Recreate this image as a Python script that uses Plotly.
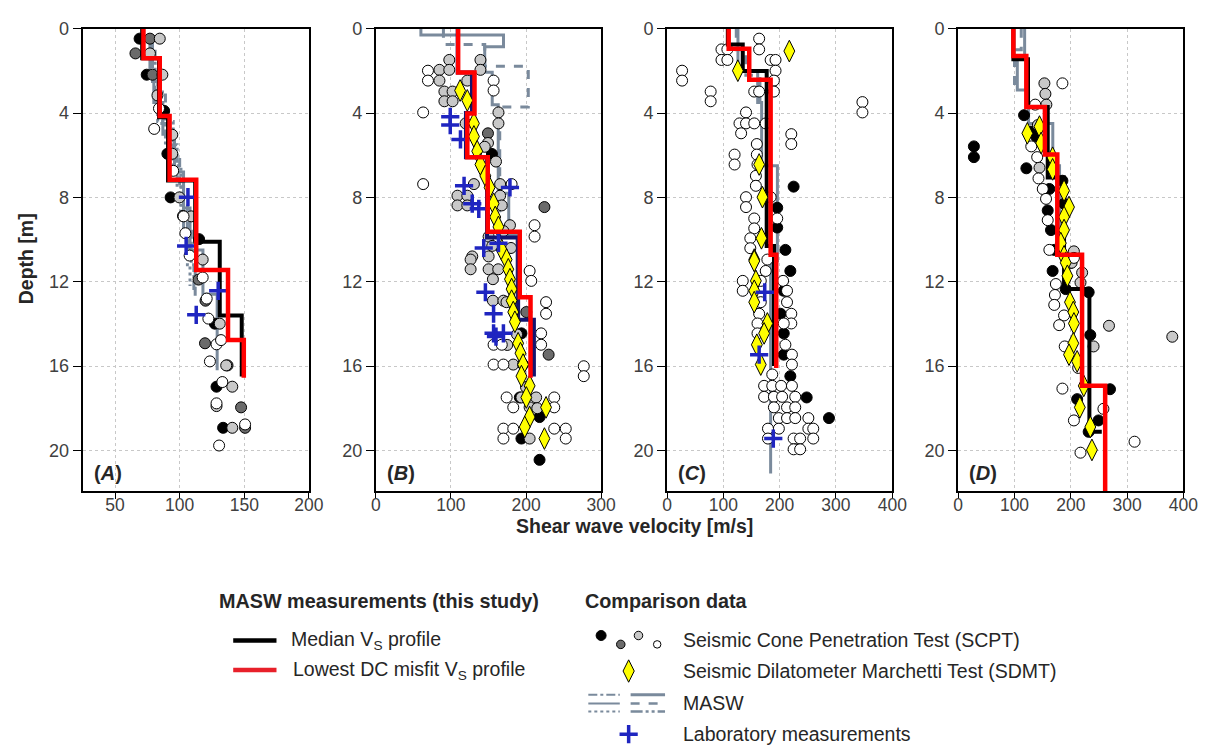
import plotly.graph_objects as go

# ======================= DATA =======================
# ---- Panel A ----
A_red_depth = [0, 1.4, 4.14, 7.16, 11.45, 14.77, 16.56]
A_red_vs = [72, 84.6, 92.2, 112.8, 137.4, 149.6]
A_med_depth = [0, 1.4, 4.2, 7.2, 10.1, 13.6, 16.5]
A_med_vs = [71, 84, 91, 112, 131, 148]
A_masw1_depth = [0.4, 2.2, 3.5, 5.0, 6.8, 8.5, 10.5, 12.6, 16.2]
A_masw1_vs = [77, 80, 87, 96, 103, 108, 118, 129]
A_masw2_depth = [0.6, 2.5, 4.5, 6.2, 8.0, 10.8, 13.0]
A_masw2_vs = [79, 84, 93, 100, 106, 112]
A_masw3_depth = [1.0, 3.0, 5.5, 7.5, 9.5, 11.2, 12.5]
A_masw3_vs = [81, 89, 98, 103, 109, 111]
A_masw4_depth = [2.0, 4.4, 6.5, 9.0, 11.2, 12.2]
A_masw4_vs = [83, 95, 101, 106, 108]
A_scpt_black = [(69, 0.47), (74.5, 2.18), (88, 3.9), (90.5, 5.93), (93, 8.0), (115, 9.98),
                (127.2, 13.99), (128.5, 16.98), (133.6, 18.93)]
A_scpt_dark = [(77, 0.47), (65.8, 1.17), (79, 2.18), (102.6, 8.88), (114.6, 11.9), (120, 12.9),
               (119.6, 14.92), (137, 15.97), (147.5, 17.96), (150.6, 18.93)]
A_scpt_light = [(84.6, 0.47), (77, 1.17), (86.6, 2.18), (82.8, 3.16), (94.3, 5.03), (94.3, 5.93),
                (99.8, 8.0), (109, 8.9), (117.8, 10.95), (131, 13.99), (136, 15.97), (140.7, 16.98),
                (128.5, 17.9), (140.7, 18.93)]
A_scpt_white = [(84, 3.78), (80.3, 4.75), (95, 6.74), (103, 8.9), (104.4, 9.7), (107.7, 10.76),
                (117.8, 11.8), (120.9, 12.8), (122.2, 13.75), (128.5, 14.97), (132, 14.77),
                (123.4, 15.78), (133, 16.76), (128.5, 17.77), (150.6, 18.77), (130.5, 19.77)]
A_sdmt = []
A_lab = [(106.4, 7.99), (105, 10.3), (129.8, 12.43), (112.8, 13.57)]

# ---- Panel B ----
B_red_depth = [0, 2.07, 4.02, 6.09, 9.63, 12.74, 16.56]
B_red_vs = [109.6, 131.4, 121.8, 149, 191.7, 206]
B_med_depth = [0, 2.07, 4.0, 6.1, 9.9, 13.8, 16.5]
B_med_vs = [109, 128, 120, 148, 189.5, 210.5]
B_masw1_depth = [0, 0.3, 0.85, 2.06, 3.6, 7.8, 9.8, 14.0]
B_masw1_vs = [60, 170, 145, 155, 163, 177, 188]
B_masw2_depth = [0, 0.75, 1.78, 3.71, 9.8]
B_masw2_vs = [90, 145, 203, 165]
B_scpt_black = [(154.6, 5.94), (193.9, 14.45), (218, 18.42), (193.9, 19.44), (218, 20.45), (191.7, 17.49)]
B_scpt_dark = [(149.3, 4.96), (224.5, 8.46), (200.4, 13.44), (230.1, 15.46)]
B_scpt_light = [(97.8, 1.48), (139.3, 1.48), (84.7, 1.95), (97.8, 1.95), (139.3, 1.95), (84.7, 2.46),
                (121.8, 2.46), (91.3, 2.98), (102.2, 2.98), (91.3, 3.44), (102.2, 3.44), (163.3, 3.97),
                (163.3, 4.49), (119.6, 4.49), (149.3, 5.42), (145, 5.6), (160, 6.3), (130.6, 7.37),
                (165.5, 7.37), (108.7, 7.92), (121.8, 7.92), (108.7, 8.38), (121.8, 8.38), (165.5, 7.92),
                (167.7, 8.38), (178.6, 9.32), (170, 9.6), (150.2, 9.86), (155, 10.3), (180, 10.4),
                (128.4, 10.8), (150.2, 10.8), (126.2, 10.95), (126.2, 11.41), (150.2, 11.41),
                (163, 11.41), (155.9, 11.88), (155.9, 12.9), (169.9, 12.9), (174, 12.97), (188, 14.5),
                (175, 15.0), (183, 15.93), (196.1, 15.93), (200, 17.0), (193.9, 17.49), (213.5, 17.49),
                (204.8, 17.96), (215, 18.0), (204.8, 19.44)]
B_scpt_white = [(69.4, 1.99), (69.4, 2.46), (156.8, 2.46), (156.8, 2.93), (63, 3.97), (63, 7.37),
                (180.8, 7.37), (211.4, 9.32), (211.4, 9.86), (204.8, 11.49), (207, 11.96), (226.7, 12.97),
                (226.7, 13.52), (220.1, 14.45), (220.1, 14.99), (156.8, 14.99), (167.7, 14.99),
                (156.8, 15.93), (169.9, 15.93), (276.9, 16.01), (276.9, 16.48), (174.2, 17.49),
                (183, 17.96), (237.6, 17.49), (237.6, 17.96), (169.9, 18.97), (183, 18.97),
                (169.9, 19.44), (237.6, 18.97), (252.9, 18.97), (252.9, 19.44)]
B_sdmt = [(112.2, 2.93), (121.8, 3.4), (130.6, 4.49), (130.6, 5.11), (135, 5.81), (139.3, 6.44),
          (145.9, 6.98), (151.5, 7.53), (156.8, 8.3), (159, 8.93), (163.3, 9.4), (167.7, 10.5),
          (174.2, 10.95), (176.4, 11.41), (178.6, 11.88), (180.8, 12.35), (180.8, 12.9), (183, 13.44),
          (185.2, 13.9), (189.5, 14.92), (192.6, 15.39), (196.1, 15.93), (193.9, 16.48), (204.8, 16.94),
          (200.4, 17.49), (226.7, 17.96), (204.8, 18.42), (198.3, 18.89), (224.5, 19.44)]
B_lab = [(99.1, 4.18), (99.1, 4.57), (112.7, 5.25), (117.5, 7.45), (128.4, 8.3), (137.1, 8.54),
         (178.6, 7.53), (143.7, 10.4), (163.3, 10.17), (145.9, 12.5), (156.8, 13.52), (156.8, 14.45),
         (169.9, 14.45), (160, 14.6)]

# ---- Panel C ----
C_red_depth = [0, 0.95, 2.42, 10.72, 16.09]
C_red_vs = [109.5, 146, 184, 194]
C_med_depth = [0, 0.75, 2.0, 10.3, 16.0]
C_med_vs = [108, 134.5, 177, 190]
C_masw1_depth = [0, 2.0, 3.5, 6.5, 11.0, 21.1]
C_masw1_vs = [126, 161, 168, 196, 184]
C_masw2_depth = [0, 1.0, 2.2, 4.0]
C_masw2_vs = [123, 140, 165]
C_scpt_black = [(224.8, 7.49), (195.7, 8.49), (195.7, 9.43), (210.2, 10.49), (219, 11.49),
                (207.3, 12.43), (201.5, 13.52), (207.3, 14.45), (207.3, 15.46), (219, 16.48),
                (248, 17.49), (287.6, 18.47), (400.6, 19.48)]
C_scpt_dark = []
C_scpt_light = []
C_scpt_white = [(163.6, 0.47), (163.6, 0.98), (96.7, 0.98), (107.2, 0.98), (96.7, 1.48), (107.2, 1.48),
                (184, 1.48), (192.7, 1.48), (192.7, 1.99), (26.8, 1.99), (26.8, 2.46), (77.5, 2.98),
                (77.5, 3.44), (189.8, 2.46), (189.8, 2.98), (154.9, 2.98), (163.6, 2.98), (347, 3.48),
                (347, 3.97), (140.3, 3.97), (128.7, 4.49), (140.3, 4.49), (154.9, 4.49), (175.3, 4.49),
                (131.6, 4.96), (220.7, 5.0), (220.7, 5.47), (159.5, 5.47), (159.5, 5.97), (120, 5.97),
                (120, 6.44), (160.7, 6.44), (157.8, 6.98), (157.8, 7.45), (140.3, 7.99), (140.3, 8.46),
                (184, 7.99), (154.9, 9.0), (195.7, 9.0), (154.9, 9.47), (147.9, 9.94), (147.9, 10.41),
                (178.2, 10.95), (175.3, 11.49), (134.5, 11.96), (134.5, 12.43), (166.5, 11.96),
                (206.1, 11.96), (213.1, 12.43), (213.1, 12.97), (166.5, 12.97), (163.6, 13.52),
                (220.7, 13.52), (220.7, 13.98), (160.7, 13.98), (160.7, 14.45), (207.3, 13.98),
                (210.2, 14.99), (221.8, 15.46), (221.8, 15.93), (186.9, 16.4), (172.4, 16.94),
                (186.9, 16.94), (202.6, 16.94), (221.8, 16.94), (172.4, 17.46), (189.8, 17.46),
                (204.4, 17.46), (227.7, 17.46), (189.8, 17.96), (213.1, 17.96), (227.7, 17.96),
                (198.6, 18.47), (213.1, 18.47), (227.7, 18.47), (251, 18.47), (198.6, 18.97),
                (179.3, 18.97), (251, 18.97), (259.7, 18.97), (259.7, 19.44), (179.3, 19.44),
                (224.8, 19.44), (236.4, 19.44), (224.8, 19.95), (236.4, 19.95)]
C_sdmt = [(217.2, 1.06), (125.8, 1.99), (163.6, 6.44), (169.5, 7.99), (167.7, 9.94), (154.9, 10.95),
          (154.9, 11.02), (157.8, 11.96), (154.9, 12.43), (154.9, 12.97), (178.2, 13.98),
          (172.4, 14.45), (159.5, 14.99), (166.5, 15.93)]
C_lab = [(173.5, 12.5), (163.6, 15.46), (188.7, 19.44)]

# ---- Panel D ----
D_red_depth = [0, 1.29, 3.71, 5.97, 10.72, 16.94, 22]
D_red_vs = [98, 121, 154, 176, 220, 261]
D_med_depth = [0, 1.45, 3.71, 7.06, 12.35, 19.12, 19.12]
D_med_vs = [98, 124, 159, 188, 233, 255]
D_masw1_depth = [0, 1.3, 2.9, 4.5, 6.5, 10.5]
D_masw1_vs = [118, 105, 125, 168, 180]
D_masw2_depth = [0, 1.0, 3.0]
D_masw2_vs = [112, 100]
D_scpt_black = [(27.9, 5.58), (27.9, 6.09), (117, 4.1), (121.1, 6.62), (128.7, 4.88), (138.6, 5.11),
                (161.9, 7.6), (159, 8.62), (164.8, 9.55), (170.6, 10.49), (185.1, 7.21), (188, 8.3),
                (167.7, 11.49), (191, 12.35), (231.7, 12.5), (234.6, 14.53), (211.3, 17.57),
                (269.6, 17.1), (249.2, 18.58), (231.7, 19.12)]
D_scpt_dark = []
D_scpt_light = [(153.1, 2.59), (154.9, 3.09), (156.6, 3.6), (141.5, 4.57), (144.4, 6.59),
                (205.5, 10.56), (199.7, 11.11), (201.4, 11.1), (220.1, 11.57), (217.2, 12.04),
                (240.4, 15.07), (267.8, 14.09), (380.2, 14.61), (400.6, 18.08)]
D_scpt_white = [(185.1, 2.59), (136.8, 3.6), (129.8, 5.58), (140.3, 6.09), (142.6, 7.1), (150.2, 7.6),
                (156, 8.07), (159, 9.08), (161.9, 10.49), (205.5, 10.87), (173.5, 12.11),
                (171.8, 12.63), (170.6, 13.1), (188, 13.6), (179.3, 14.06), (189.2, 15.07),
                (213.1, 16.09), (185.1, 17.07), (205.5, 18.58), (257.9, 18.03), (313.2, 19.59),
                (217.2, 20.11)]
D_sdmt = [(122.8, 4.96), (144.4, 4.64), (147.3, 5.42), (167.7, 6.12), (167.7, 6.67), (188, 7.68),
          (196.8, 8.46), (188, 8.93), (188, 9.55), (182.2, 10.17), (188, 10.8), (191, 11.1),
          (193.9, 11.72), (198.5, 12.97), (204.4, 13.44), (205.5, 13.98), (204.4, 14.92),
          (196.8, 15.46), (211.3, 15.78), (223, 16.94), (216, 17.96), (234.6, 18.89), (237.5, 19.98)]
D_lab = []

# axes
panel_names = ["A", "B", "C", "D"]
x_ranges = [[25, 200], [0, 300], [0, 400], [0, 400]]
x_tickvals = [[50, 100, 150, 200], [0, 100, 200, 300], [0, 100, 200, 300, 400], [0, 100, 200, 300, 400]]
depth_range = [21.95, 0]
depth_ticks = [0, 4, 8, 12, 16, 20]

# ======================= STYLE / LAYOUT =======================
W, H = 1225, 747
panel_px = [(79, 309), (377, 606), (673, 902), (969, 1198)]
top_px, bot_px = 19, 488
legend_top_px = 570
FONT = "Arial, 'Liberation Sans', sans-serif"
GRAY = "#7A8A9C"
RED = "#FF0000"
BLUE = "#1F25C0"
med_colors = ["#000000", "#14146E", "#000000", "#000000"]
scpt_colors = {"black": "#000000", "dark": "#6B6B6B", "light": "#C8C8C8", "white": "#FFFFFF"}

panels = {
    "A": dict(red=(A_red_depth, A_red_vs), med=(A_med_depth, A_med_vs),
              masw=[(A_masw1_depth, A_masw1_vs, "solid"), (A_masw2_depth, A_masw2_vs, "dash"),
                    (A_masw3_depth, A_masw3_vs, "dashdot"), (A_masw4_depth, A_masw4_vs, "dot")],
              scpt=[("black", A_scpt_black), ("dark", A_scpt_dark), ("light", A_scpt_light), ("white", A_scpt_white)],
              sdmt=A_sdmt, lab=A_lab),
    "B": dict(red=(B_red_depth, B_red_vs), med=(B_med_depth, B_med_vs),
              masw=[(B_masw1_depth, B_masw1_vs, "solid"), (B_masw2_depth, B_masw2_vs, "dash")],
              scpt=[("black", B_scpt_black), ("dark", B_scpt_dark), ("light", B_scpt_light), ("white", B_scpt_white)],
              sdmt=B_sdmt, lab=B_lab),
    "C": dict(red=(C_red_depth, C_red_vs), med=(C_med_depth, C_med_vs),
              masw=[(C_masw1_depth, C_masw1_vs, "solid"), (C_masw2_depth, C_masw2_vs, "dash")],
              scpt=[("black", C_scpt_black), ("dark", C_scpt_dark), ("light", C_scpt_light), ("white", C_scpt_white)],
              sdmt=C_sdmt, lab=C_lab),
    "D": dict(red=(D_red_depth, D_red_vs), med=(D_med_depth, D_med_vs),
              masw=[(D_masw1_depth, D_masw1_vs, "solid"), (D_masw2_depth, D_masw2_vs, "dash")],
              scpt=[("black", D_scpt_black), ("dark", D_scpt_dark), ("light", D_scpt_light), ("white", D_scpt_white)],
              sdmt=D_sdmt, lab=D_lab),
}


def steps(bounds, vs):
    xs, ys = [], []
    for i, v in enumerate(vs):
        xs += [v, v]
        ys += [bounds[i], bounds[i + 1]]
    return xs, ys


fig = go.Figure()

for i, name in enumerate(panel_names):
    p = panels[name]
    xa, ya = ("x" if i == 0 else f"x{i+1}"), ("y" if i == 0 else f"y{i+1}")
    for bounds, vs, dash in p["masw"]:
        xs, ys = steps(bounds, vs)
        fig.add_trace(go.Scatter(x=xs, y=ys, mode="lines", xaxis=xa, yaxis=ya,
                                 line=dict(color=GRAY, width=3, dash=dash), showlegend=False))
    for cname, pts in p["scpt"]:
        if pts:
            fig.add_trace(go.Scatter(x=[a for a, b in pts], y=[b for a, b in pts], mode="markers",
                                     xaxis=xa, yaxis=ya, cliponaxis=False, showlegend=False,
                                     marker=dict(size=11, color=scpt_colors[cname],
                                                 line=dict(color="black", width=1))))
    xs, ys = steps(*p["med"])
    fig.add_trace(go.Scatter(x=xs, y=ys, mode="lines", xaxis=xa, yaxis=ya, showlegend=False,
                             line=dict(color=med_colors[i], width=4)))
    if p["sdmt"]:
        fig.add_trace(go.Scatter(x=[a for a, b in p["sdmt"]], y=[b for a, b in p["sdmt"]], mode="markers",
                                 xaxis=xa, yaxis=ya, cliponaxis=False, showlegend=False,
                                 marker=dict(symbol="diamond-tall", size=15.5, color="#FFFF00",
                                             line=dict(color="black", width=1))))
    if p["lab"]:
        fig.add_trace(go.Scatter(x=[a for a, b in p["lab"]], y=[b for a, b in p["lab"]], mode="markers",
                                 xaxis=xa, yaxis=ya, cliponaxis=False, showlegend=False,
                                 marker=dict(symbol="cross-thin", size=13, color=BLUE,
                                             line=dict(color=BLUE, width=3.5))))
    xs, ys = steps(*p["red"])
    fig.add_trace(go.Scatter(x=xs, y=ys, mode="lines", xaxis=xa, yaxis=ya, showlegend=False,
                             line=dict(color=RED, width=4.5)))

layout = dict(width=W, height=H, margin=dict(l=0, r=0, t=0, b=0), paper_bgcolor="white",
              plot_bgcolor="rgba(0,0,0,0)", font=dict(family=FONT, color="#262626"), showlegend=False)
for i in range(4):
    L, R = panel_px[i]
    kx = "xaxis" if i == 0 else f"xaxis{i+1}"
    ky = "yaxis" if i == 0 else f"yaxis{i+1}"
    layout[kx] = dict(domain=[L / W, R / W], range=x_ranges[i], tickvals=x_tickvals[i],
                      anchor="y" if i == 0 else f"y{i+1}",
                      showgrid=True, gridcolor="#C8C8C8", griddash="dot", gridwidth=1,
                      showline=True, linecolor="black", linewidth=2, mirror=True, zeroline=False,
                      ticks="outside", ticklen=6, tickcolor="black", tickwidth=1.2,
                      ticklabelstandoff=-9,
                      tickfont=dict(size=17.5, color="#404040", family=FONT))
    layout[ky] = dict(domain=[1 - bot_px / H, 1 - top_px / H], range=depth_range, tickvals=depth_ticks,
                      anchor="x" if i == 0 else f"x{i+1}",
                      showgrid=True, gridcolor="#C8C8C8", griddash="dot", gridwidth=1,
                      showline=True, linecolor="black", linewidth=2, mirror=True, zeroline=False,
                      ticks="outside", ticklen=8, tickcolor="black", tickwidth=1.2,
                      tickfont=dict(size=18, color="#404040", family=FONT))

# separate axis, below the panels, for the legend glyphs (pixel coordinates)
layout["xaxis5"] = dict(domain=[0, 1], range=[0, W], visible=False, anchor="y5", fixedrange=True)
layout["yaxis5"] = dict(domain=[0, 1 - legend_top_px / H], range=[H, legend_top_px], visible=False,
                        anchor="x5", fixedrange=True)
fig.update_layout(**layout)


def leg_line(x0, x1, y, color, width, dash="solid"):
    fig.add_trace(go.Scatter(x=[x0, x1], y=[y, y], mode="lines", xaxis="x5", yaxis="y5",
                             showlegend=False, hoverinfo="skip",
                             line=dict(color=color, width=width, dash=dash)))


def leg_marker(x, y, symbol, size, color, lcolor="black", lw=1):
    fig.add_trace(go.Scatter(x=[x], y=[y], mode="markers", xaxis="x5", yaxis="y5",
                             showlegend=False, hoverinfo="skip", cliponaxis=False,
                             marker=dict(symbol=symbol, size=size, color=color,
                                         line=dict(color=lcolor, width=lw))))


leg_line(232, 276, 639, "#000000", 4.5)
leg_line(232, 276, 669, "#E8202A", 4.5)
leg_marker(606, 634, "circle", 10, "#000000")
leg_marker(626, 643, "circle", 8.5, "#6B6B6B")
leg_marker(644, 634, "circle", 8.5, "#C8C8C8")
leg_marker(663, 643, "circle", 7.5, "#FFFFFF")
leg_marker(634, 670, "diamond-tall", 16, "#FFFF00")
leg_line(593, 625, 694, GRAY, 2, "dashdot")
leg_line(593, 625, 703, GRAY, 2, "solid")
leg_line(593, 625, 711, GRAY, 2, "dot")
leg_line(636, 671, 694, GRAY, 3, "solid")
leg_line(636, 671, 703, GRAY, 2.5, "dash")
leg_line(636, 671, 711, GRAY, 2.5, "12px,3px,3px,3px,3px,3px")
leg_marker(634, 734, "cross-thin", 13, BLUE, BLUE, 3.5)

ann = []


def text(px, py, s, size=19.5, anchor="left", bold=False, angle=0):
    ann.append(dict(x=px / W, y=1 - py / H, xref="paper", yref="paper", text=(f"<b>{s}</b>" if bold else s),
                    showarrow=False, xanchor=anchor, yanchor="middle", textangle=angle,
                    font=dict(size=size, color="#262626", family=FONT)))


text(640, 523, "Shear wave velocity [m/s]", anchor="center", bold=True)
text(21, 252, "Depth [m]", anchor="center", bold=True, angle=-90)
for i, name in enumerate(panel_names):
    L, R = panel_px[i]
    text(L + 9, 469, f"(<i>{name}</i>)", size=20, bold=True)
text(216, 599, "MASW measurements (this study)", size=19.8, bold=True)
text(588, 599, "Comparison data", size=19.8, bold=True)
text(289, 639, "Median V<sub>S</sub> profile")
text(291, 669, "Lowest DC misfit V<sub>S</sub> profile")
text(687, 639, "Seismic Cone Penetration Test (SCPT)")
text(687, 670, "Seismic Dilatometer Marchetti Test (SDMT)")
text(687, 702, "MASW")
text(687, 734, "Laboratory measurements")
fig.update_layout(annotations=ann)

fig.write_html("out.html")
